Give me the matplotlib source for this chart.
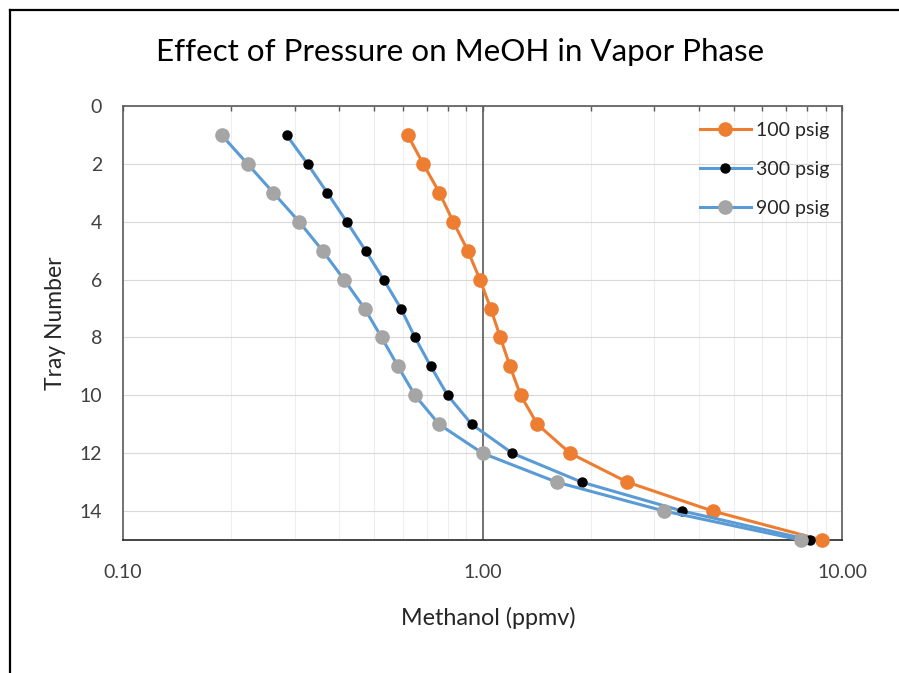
import matplotlib
matplotlib.use("Agg")
import matplotlib.pyplot as plt
from matplotlib.ticker import FixedLocator, NullFormatter, FixedFormatter
from matplotlib.lines import Line2D

plt.rcParams['font.family'] = ['Lato', 'DejaVu Sans']

# tray numbers, top (1) to bottom (15)
trays = list(range(1, 16))

# methanol in vapour, ppmv
meoh_100 = [0.619, 0.684, 0.759, 0.829, 0.910, 0.984, 1.054, 1.121, 1.193,
            1.277, 1.421, 1.752, 2.528, 4.37, 8.78]
meoh_300 = [0.285, 0.326, 0.370, 0.419, 0.473, 0.531, 0.593, 0.649, 0.718,
            0.800, 0.933, 1.21, 1.888, 3.60, 8.15]
meoh_900 = [0.188, 0.222, 0.262, 0.309, 0.359, 0.412, 0.470, 0.524, 0.582,
            0.649, 0.757, 1.00, 1.608, 3.204, 7.67]

series_names = ['100 psig', '300 psig', '900 psig']
xticks = [0.1, 1.0, 10.0]
xtick_labels = ['0.10', '1.00', '10.00']
yticks = [0, 2, 4, 6, 8, 10, 12, 14]

W, H = 899, 673
fig = plt.figure(figsize=(W / 100, H / 100), dpi=100)

# plot area in pixels: left 123, right 842, top 106, bottom 540
ax = fig.add_axes([123 / W, 1 - 540 / H, (842 - 123) / W, (540 - 106) / H])

orange = '#ED7D31'
blue = '#5B9BD5'
gray = '#A5A5A5'

ax.plot(meoh_100, trays, color=orange, lw=2.2, marker='o', ms=9.5,
        mfc=orange, mec=orange, label=series_names[0], clip_on=False, zorder=3)
ax.plot(meoh_300, trays, color=blue, lw=2.2, marker='o', ms=6.5,
        mfc='black', mec='black', label=series_names[1], clip_on=False, zorder=4)
ax.plot(meoh_900, trays, color=blue, lw=2.2, marker='o', ms=9.5,
        mfc=gray, mec=gray, label=series_names[2], clip_on=False, zorder=5)

ax.set_xscale('log')
ax.set_xlim(0.1, 10)
ax.set_ylim(15, 0)

ax.xaxis.set_major_locator(FixedLocator(xticks))
ax.xaxis.set_major_formatter(FixedFormatter(xtick_labels))
ax.xaxis.set_minor_locator(FixedLocator([0.2, 0.3, 0.4, 0.5, 0.6, 0.7, 0.8, 0.9,
                                         2, 3, 4, 5, 6, 7, 8, 9]))
ax.xaxis.set_minor_formatter(NullFormatter())
ax.set_yticks(yticks)

ax.tick_params(axis='x', which='both', top=True, bottom=False, labelbottom=True,
               labeltop=False, direction='in', length=3.6, width=1.0,
               color='#595959', pad=17, labelsize=14, labelcolor='#404040')
ax.tick_params(axis='y', length=0, pad=15, labelsize=14, labelcolor='#404040')

ax.grid(True, which='major', axis='y', color='#d9d9d9', lw=0.8)
ax.grid(True, which='minor', axis='x', color='#eeeeee', lw=0.8)
ax.set_axisbelow(True)
ax.axvline(1.0, color='#595959', lw=1.2, zorder=2)

for s in ax.spines.values():
    s.set_color('#595959')
    s.set_linewidth(1.2)
ax.spines['bottom'].set_color('#262626')

ax.set_xlabel('Methanol (ppmv)', fontsize=16.8, color='#262626')
ax.xaxis.label.set_verticalalignment('center')
ax.xaxis.set_label_coords((488 - 123) / 719, -(618 - 540) / 434)
ax.set_ylabel('Tray Number', fontsize=16.5, color='#262626')
ax.yaxis.label.set_verticalalignment('center')
ax.yaxis.label.set_horizontalalignment('center')
ax.yaxis.set_label_coords((55 - 123) / 719, 0.5)

fig.text(460 / W, 1 - 52 / H, 'Effect of Pressure on MeOH in Vapor Phase',
         ha='center', va='center', fontsize=22.6, color='black')

leg = ax.legend(loc='upper left', bbox_to_anchor=(700 / W, 1 - 122 / H),
                bbox_transform=fig.transFigure, frameon=False, fontsize=14,
                handlelength=2.6, handletextpad=0.3, labelspacing=1.12,
                borderpad=0, borderaxespad=0)
for t in leg.get_texts():
    t.set_color('#262626')

# outer chart frame
fig.add_artist(Line2D([9.5 / W, 9.5 / W], [0, 1 - 10 / H], transform=fig.transFigure,
                      color='black', lw=1.6))
fig.add_artist(Line2D([9.5 / W, 1], [1 - 10 / H, 1 - 10 / H], transform=fig.transFigure,
                      color='black', lw=1.6))

fig.savefig('out.png', dpi=100)
